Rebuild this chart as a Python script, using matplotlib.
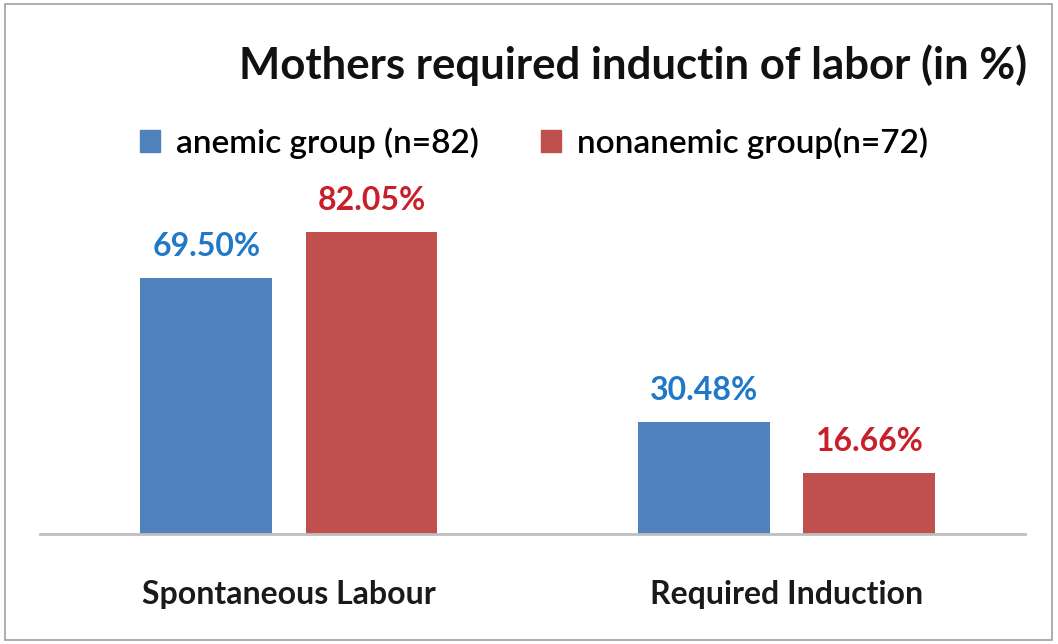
import matplotlib
matplotlib.use("Agg")
import matplotlib.pyplot as plt
from matplotlib.patches import Rectangle, Patch
import numpy as np

categories = ["Spontaneous Labour", "Required Induction"]
series_names = ["anemic group (n=82)", "nonanemic group(n=72)"]
anemic = [69.50, 30.48]
nonanemic = [82.05, 16.66]
label_text_anemic = ["69.50%", "30.48%"]
label_text_nonanemic = ["82.05%", "16.66%"]

plt.rcParams['font.family'] = ['Lato', 'DejaVu Sans']

fig = plt.figure(figsize=(10.58, 6.44), dpi=100)
ax = fig.add_axes([40/1058, 110/644, 985/1058, 368/644])

x = np.arange(len(categories))
w = 0.265
off = 0.1657
c_blue = "#4F81BD"
c_red = "#C0504D"
ax.bar(x - off, anemic, w, color=c_blue, label=series_names[0])
ax.bar(x + off, nonanemic, w, color=c_red, label=series_names[1])

for xi, v, t in zip(x - off, anemic, label_text_anemic):
    ax.text(xi, v + 6.0, t, ha="center", va="baseline", color="#1F78C8",
            fontsize=23, fontweight="bold")
for xi, v, t in zip(x + off, nonanemic, label_text_nonanemic):
    ax.text(xi, v + 6.0, t, ha="center", va="baseline", color="#C8202A",
            fontsize=23, fontweight="bold")

ax.set_xlim(-0.5, 1.478)
ax.set_ylim(0, 100)
ax.set_yticks([])
ax.set_xticks(x)
ax.set_xticklabels(categories, fontsize=23, fontweight="bold", color="#1a1a1a")
ax.tick_params(axis="x", length=0, pad=33)
for s in ["top", "right", "left"]:
    ax.spines[s].set_visible(False)
ax.spines["bottom"].set_color("#BFBFBF")
ax.spines["bottom"].set_linewidth(2)

fig.text(633/1058, 1 - 65/644, "Mothers required inductin of labor (in %)",
         ha="center", va="center", fontsize=31.5, fontweight="bold", color="#111111")

handles = [Patch(color=c_blue), Patch(color=c_red)]
fig.legend(handles, series_names, loc="center", bbox_to_anchor=(534/1058, 1 - 143/644),
           ncol=2, frameon=False, handlelength=0.6, handleheight=0.6,
           handletextpad=0.5, columnspacing=1.85, prop={'size': 24, 'weight': 'semibold'})

fig.patches.append(Rectangle((5/1058, 4/644), 1047/1058, 636/644, transform=fig.transFigure,
                             fill=False, edgecolor="#A0A0A0", linewidth=1.2))

fig.savefig("out.png", dpi=100)
